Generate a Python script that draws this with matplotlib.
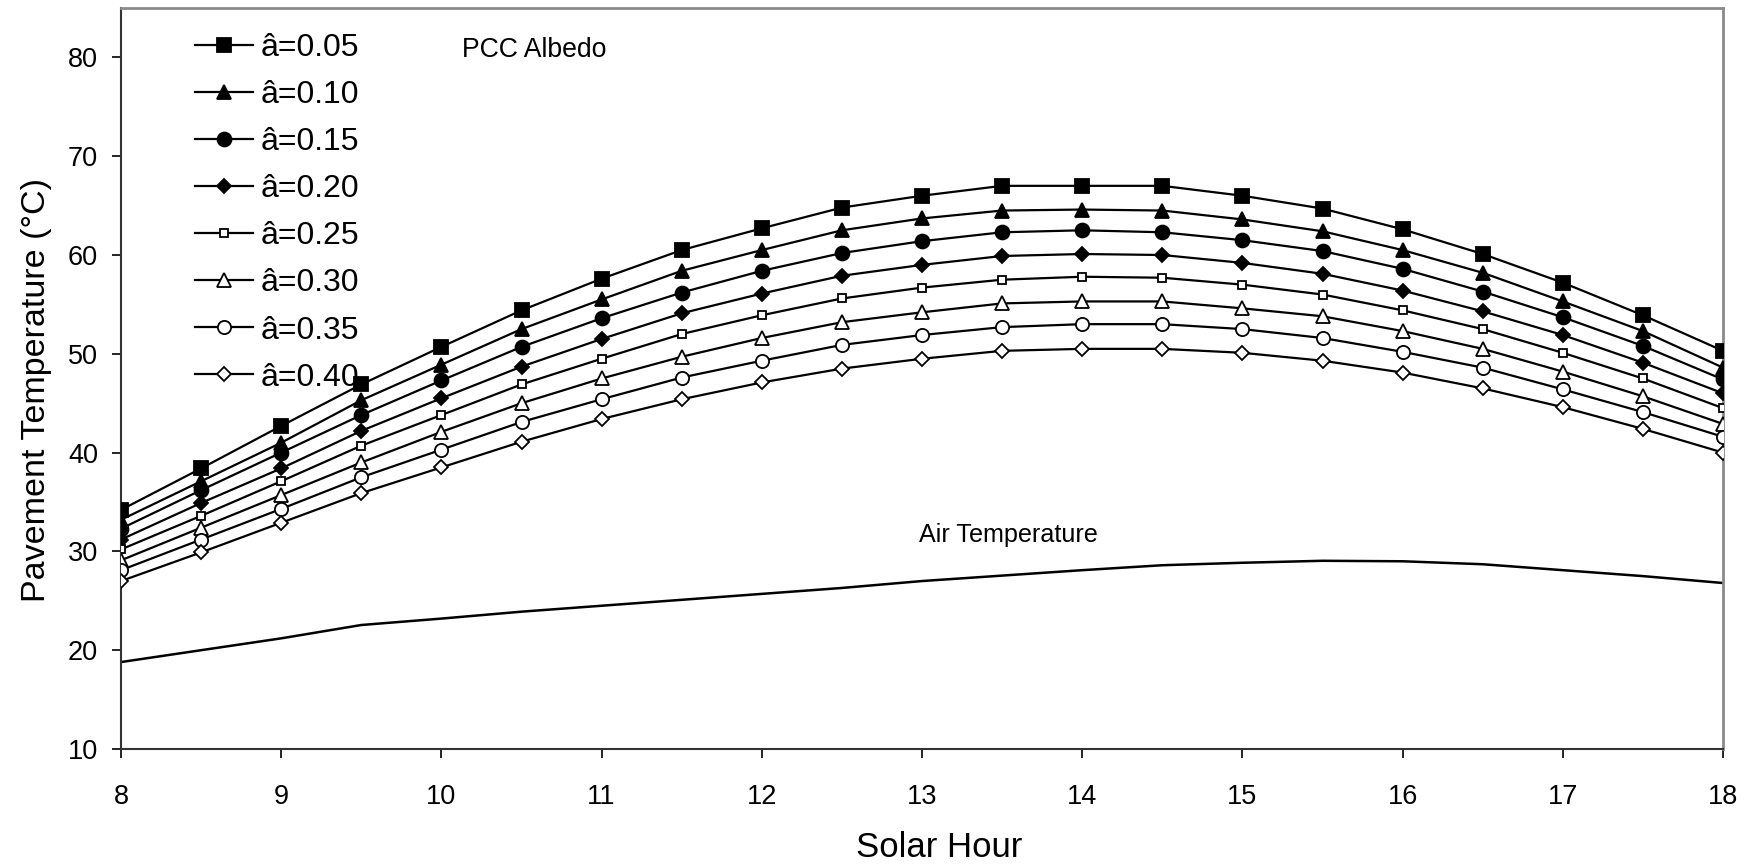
import matplotlib
matplotlib.use("Agg")
import matplotlib.pyplot as plt

plt.rcParams["font.family"] = ["Liberation Sans", "DejaVu Sans"]

# Solar hours (half-hour steps)
hours = [8, 8.5, 9, 9.5, 10, 10.5, 11, 11.5, 12, 12.5, 13, 13.5, 14,
         14.5, 15, 15.5, 16, 16.5, 17, 17.5, 18]

# Pavement surface temperature (°C) for each PCC albedo
albedo_labels = ["â=0.05", "â=0.10", "â=0.15", "â=0.20",
                 "â=0.25", "â=0.30", "â=0.35", "â=0.40"]

t_005 = [34.2, 38.4, 42.7, 46.9, 50.7, 54.4, 57.6, 60.5, 62.7, 64.8, 66.0,
         67.0, 67.0, 67.0, 66.0, 64.7, 62.6, 60.1, 57.2, 53.9, 50.3]
t_010 = [33.2, 37.1, 41.0, 45.3, 48.9, 52.5, 55.5, 58.4, 60.5, 62.5, 63.7,
         64.5, 64.6, 64.5, 63.6, 62.4, 60.5, 58.2, 55.3, 52.3, 48.6]
t_015 = [32.3, 36.2, 40.0, 43.8, 47.3, 50.7, 53.6, 56.2, 58.4, 60.2, 61.4,
         62.3, 62.5, 62.3, 61.5, 60.4, 58.6, 56.3, 53.7, 50.8, 47.4]
t_020 = [31.2, 34.9, 38.4, 42.2, 45.5, 48.7, 51.5, 54.1, 56.1, 57.9, 59.0,
         59.9, 60.1, 60.0, 59.2, 58.1, 56.4, 54.3, 51.9, 49.1, 46.0]
t_025 = [30.2, 33.6, 37.1, 40.7, 43.8, 46.9, 49.5, 52.0, 53.9, 55.6, 56.7,
         57.5, 57.8, 57.7, 57.0, 56.0, 54.4, 52.5, 50.1, 47.5, 44.5]
t_030 = [29.1, 32.4, 35.7, 39.0, 42.1, 45.0, 47.5, 49.7, 51.6, 53.2, 54.2,
         55.1, 55.3, 55.3, 54.6, 53.8, 52.3, 50.5, 48.2, 45.7, 42.9]
t_035 = [28.1, 31.2, 34.3, 37.5, 40.3, 43.1, 45.4, 47.6, 49.3, 50.9, 51.9,
         52.7, 53.0, 53.0, 52.5, 51.6, 50.2, 48.6, 46.4, 44.1, 41.6]
t_040 = [27.0, 29.9, 32.9, 35.9, 38.5, 41.1, 43.4, 45.4, 47.1, 48.5, 49.5,
         50.3, 50.5, 50.5, 50.1, 49.3, 48.1, 46.5, 44.6, 42.4, 40.0]

# Ambient air temperature (°C)
air_temp = [18.8, 20.0, 21.2, 22.55, 23.2, 23.9, 24.5, 25.1, 25.7, 26.3, 27.0,
            27.55, 28.1, 28.6, 28.85, 29.05, 29.0, 28.7, 28.1, 27.5, 26.8]

series = [t_005, t_010, t_015, t_020, t_025, t_030, t_035, t_040]

# marker, size (pt), filled?
styles = [
    ("s", 10.0, True),
    ("^", 10.5, True),
    ("o", 10.0, True),
    ("D", 7.2, True),
    ("s", 6.2, False),
    ("^", 9.5, False),
    ("o", 9.5, False),
    ("D", 6.8, False),
]

fig = plt.figure(figsize=(17.6, 8.66), dpi=100)
W, H = 1760, 866
ax = fig.add_axes([121 / W, 1 - 749 / H, (1723 - 121) / W, (749 - 8) / H])

for vals, lab, (mk, ms, filled) in zip(series, albedo_labels, styles):
    ax.plot(hours, vals, color="black", lw=1.6, marker=mk, markersize=ms,
            markerfacecolor="black" if filled else "white",
            markeredgecolor="black", markeredgewidth=1.3, label=lab,
            zorder=3)

ax.plot(hours, air_temp, color="black", lw=1.8, zorder=2)

ax.set_xlim(8, 18)
ax.set_ylim(10, 85)
ax.set_xticks(range(8, 19))
ax.set_yticks(range(10, 81, 10))

ax.tick_params(axis="both", direction="out", length=6.5, width=1.2,
               colors="black", labelsize=19.5)
ax.tick_params(axis="x", pad=19)
ax.tick_params(axis="y", pad=10)

for side in ("left", "bottom"):
    ax.spines[side].set_color("#333333")
    ax.spines[side].set_linewidth(1.5)
for side in ("top", "right"):
    ax.spines[side].set_color("#8a8a8a")
    ax.spines[side].set_linewidth(2.0)

ax.set_xlabel("Solar Hour", fontsize=25)
ax.xaxis.set_label_coords(0.511, -0.133)
ax.xaxis.label.set_va("center")
ax.set_ylabel("Pavement Temperature (°C)", fontsize=24.5)
ax.yaxis.set_label_coords(-0.053, 0.485)
ax.yaxis.label.set_va("center")

ax.text(10.13, 80.75, "PCC Albedo", fontsize=19.2, ha="left", va="center")
ax.text(12.98, 31.65, "Air Temperature", fontsize=18.1, ha="left",
        va="center")

leg = ax.legend(loc="upper left", bbox_to_anchor=(195 / W, 1 - 33 / H),
                bbox_transform=fig.transFigure, frameon=False, fontsize=23,
                handlelength=1.8, handletextpad=0.25, labelspacing=0.535,
                borderpad=0, borderaxespad=0, numpoints=1)

fig.savefig("out.png", dpi=100, facecolor="white")
